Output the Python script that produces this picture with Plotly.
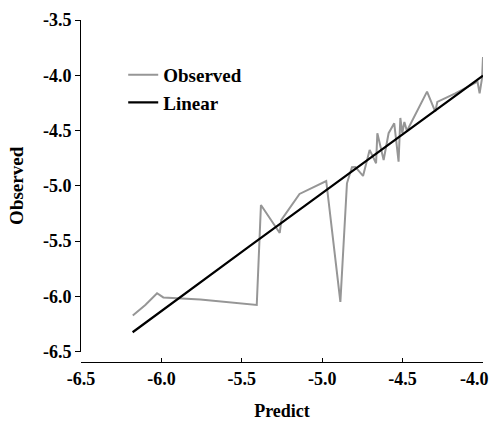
import plotly.graph_objects as go

# Observed series (Predict vs Observed)
obs_x = [-6.178, -6.100, -6.027, -5.988, -5.758, -5.571, -5.407, -5.381, -5.264, -5.254,
         -5.141, -4.975, -4.887, -4.846, -4.815, -4.794, -4.746, -4.705, -4.665, -4.657,
         -4.618, -4.587, -4.552, -4.525, -4.514, -4.502, -4.489, -4.473, -4.348, -4.297,
         -4.284, -4.172, -4.034, -4.021, -4.006, -4.000]
obs_y = [-6.172, -6.077, -5.971, -6.009, -6.027, -6.054, -6.077, -5.173, -5.426, -5.308,
         -5.073, -4.956, -6.050, -4.977, -4.832, -4.829, -4.910, -4.675, -4.796, -4.524,
         -4.766, -4.524, -4.434, -4.781, -4.386, -4.522, -4.422, -4.504, -4.148, -4.329,
         -4.241, -4.163, -4.058, -4.163, -4.027, -3.835]

# Linear fit line
lin_x = [-6.179, -5.447, -4.000]
lin_y = [-6.324, -5.541, -4.004]

x_ticks = [-6.5, -6.0, -5.5, -5.0, -4.5, -4.0]
x_ticktext = ["-6.5", "-6.0", "-5.5", "-5.0", "-4.5", "-4.0"]
y_ticks = [-6.5, -6.0, -5.5, -5.0, -4.5, -4.0, -3.5]
y_ticktext = ["-6.5", "-6.0", "-5.5", "-5.0", "-4.5", "-4.0", "-3.5"]

FONT = "Liberation Serif"
tickfont = dict(family=FONT, size=18, color="black", weight="bold")

fig = go.Figure()
fig.add_trace(go.Scatter(x=obs_x, y=obs_y, mode="lines", name="Observed",
                         line=dict(color="#969696", width=2)))
fig.add_trace(go.Scatter(x=lin_x, y=lin_y, mode="lines", name="Linear",
                         line=dict(color="#000000", width=2.2)))

W, H = 492, 421
L, R, T, B = 80.7, 9.3, 20, 59
plot_h = H - T - B
ydom0 = 10.3 / plot_h

# last x tick label is drawn as an annotation pulled left so it stays inside the page
shown_x_text = x_ticktext[:-1] + [""]

fig.update_layout(
    width=W, height=H,
    margin=dict(l=L, r=R, t=T, b=B, pad=0, autoexpand=False),
    paper_bgcolor="white", plot_bgcolor="white",
    font=dict(family=FONT, size=18, color="black", weight="bold"),
    showlegend=True,
    legend=dict(x=0.105, y=0.895, xanchor="left", yanchor="top",
                bgcolor="rgba(0,0,0,0)", borderwidth=0,
                font=dict(family=FONT, size=19, color="black", weight="bold"),
                itemwidth=30, tracegroupgap=0),
    xaxis=dict(range=[-6.5, -4.0], tickvals=x_ticks, ticktext=shown_x_text,
               anchor="free", position=0, showgrid=False, zeroline=False,
               showline=True, linecolor="black", linewidth=1,
               ticks="inside", ticklen=4, tickcolor="black", automargin=False,
               ticklabeloverflow="allow", tickfont=tickfont,
               title=dict(text="Predict", standoff=22,
                          font=dict(family=FONT, size=18, color="black", weight="bold"))),
    yaxis=dict(range=[-6.5, -3.5], tickvals=y_ticks, ticktext=y_ticktext,
               domain=[ydom0, 1], showgrid=False, zeroline=False,
               showline=True, linecolor="black", linewidth=1,
               ticks="outside", ticklen=5, tickcolor="black", automargin=False,
               ticklabeloverflow="allow", tickfont=tickfont,
               title=dict(text="Observed", standoff=14,
                          font=dict(family=FONT, size=19, color="black", weight="bold"))),
    annotations=[dict(x=x_ticks[-1], xref="x", y=0, yref="paper",
                      text=x_ticktext[-1], showarrow=False,
                      xanchor="right", yanchor="middle", xshift=8, yshift=-17,
                      font=tickfont)],
)

fig.write_html("out.html", config={"displayModeBar": False},
               post_script="document.body.style.margin='0';")
